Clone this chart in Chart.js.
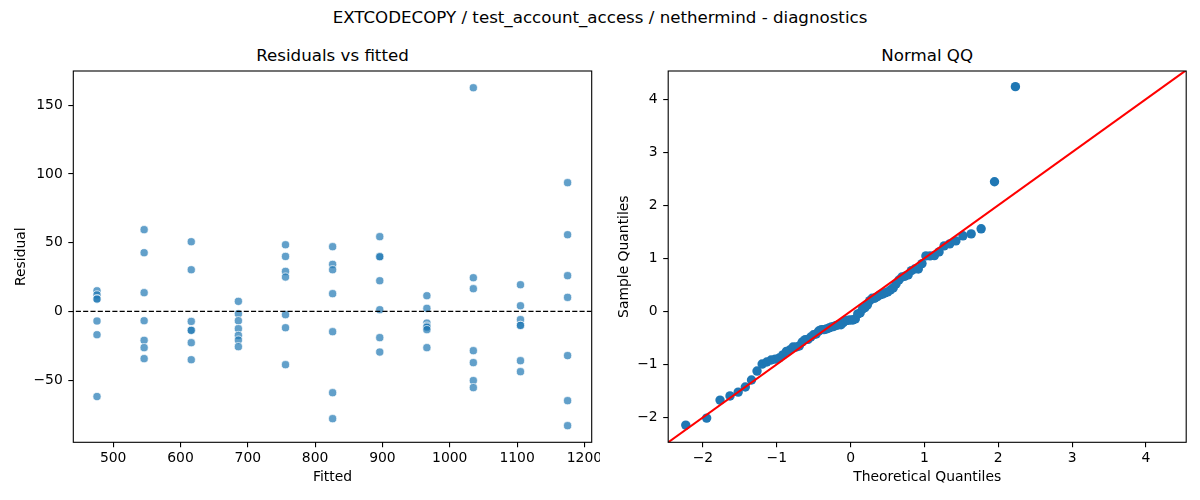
<!DOCTYPE html>
<html>
<head>
<meta charset="utf-8">
<script src="https://cdn.jsdelivr.net/npm/chart.js@4.4.1/dist/chart.umd.min.js"></script>
<style>
  html, body { margin: 0; padding: 0; background: #fff; }
  #wrap { position: relative; width: 1200px; height: 500px; overflow: hidden; font-family: 'DejaVu Sans', sans-serif; color: #000; }
  .ttl { position: absolute; font-size: 16.67px; line-height: 20px; white-space: nowrap; transform: translateX(-50%); }
  canvas { position: absolute; top: 0; }
</style>
</head>
<body>
<div id="wrap">
  <div class="ttl" style="left:600px; top:8px;">EXTCODECOPY / test_account_access / nethermind - diagnostics</div>
  <div class="ttl" style="left:332.5px; top:46px;">Residuals vs fitted</div>
  <div class="ttl" style="left:927.2px; top:46px;">Normal QQ</div>
  <div style="position:absolute; left:0; top:0; width:600px; height:500px;"><canvas id="left" width="600" height="500"></canvas></div>
  <div style="position:absolute; left:600px; top:0; width:600px; height:500px;"><canvas id="right" width="600" height="500"></canvas></div>
</div>
<script>
// ---- data ----
const fittedLevels = [476, 546, 616, 686, 756, 826, 896, 966, 1035, 1105, 1175];
const residualsAtLevel = [
  [15, 12, 9, 9, -7, -17, -62],
  [59.5, 42.7, 13.6, -6.8, -21.1, -26.4, -34.4],
  [50.7, 30.3, -7.3, -13.8, -13.8, -22.8, -35.2],
  [7.3, -1.7, -6.8, -12.6, -17.5, -20.9, -25.7],
  [48.5, 40.0, 29.1, 25.0, -2.4, -11.9, -38.8],
  [47.1, 34.2, 30.3, 12.9, -14.8, -59.2, -78.1],
  [54.4, 39.8, 39.8, 22.3, 1.2, -19.1, -29.6],
  [11.4, 2.2, -8.5, -10.7, -11.5, -13.3, -26.4],
  [162.8, 24.5, 16.5, -28.6, -37.3, -50.4, -55.5],
  [19.4, 4.1, -6.0, -10.2, -10.2, -35.9, -43.9],
  [93.7, 55.8, 26.0, 10.2, -32.2, -65.0, -83.2]
];
const qqTheoretical = [
  -2.232, -1.949, -1.768, -1.633, -1.522, -1.426, -1.342, -1.267, -1.198, -1.135,
  -1.076, -1.020, -0.967, -0.917, -0.869, -0.823, -0.779, -0.736, -0.695, -0.655,
  -0.615, -0.577, -0.539, -0.502, -0.466, -0.431, -0.396, -0.361, -0.327, -0.293,
  -0.260, -0.227, -0.194, -0.161, -0.129, -0.097, -0.064, -0.032, 0.000, 0.032,
  0.064, 0.097, 0.129, 0.161, 0.194, 0.227, 0.260, 0.293, 0.327, 0.361,
  0.396, 0.431, 0.466, 0.502, 0.539, 0.577, 0.615, 0.655, 0.695, 0.736,
  0.779, 0.823, 0.869, 0.917, 0.967, 1.020, 1.076, 1.135, 1.198, 1.267,
  1.342, 1.426, 1.522, 1.633, 1.768, 1.949, 2.232
];
const qqSample = [
  -2.146, -2.014, -1.674, -1.596, -1.524, -1.428, -1.295, -1.127, -0.995, -0.956,
  -0.919, -0.901, -0.880, -0.823, -0.756, -0.730, -0.673, -0.673, -0.655, -0.580,
  -0.535, -0.530, -0.484, -0.442, -0.429, -0.372, -0.346, -0.346, -0.333, -0.315,
  -0.297, -0.286, -0.266, -0.253, -0.253, -0.209, -0.177, -0.170, -0.164, -0.164,
  -0.144, -0.050, -0.032, 0.043, 0.069, 0.118, 0.201, 0.245, 0.245, 0.277,
  0.308, 0.323, 0.347, 0.365, 0.401, 0.440, 0.515, 0.590, 0.647, 0.660,
  0.686, 0.767, 0.798, 0.798, 0.899, 1.044, 1.044, 1.050, 1.120, 1.234,
  1.270, 1.327, 1.423, 1.459, 1.555, 2.443, 4.235
];
const qqLineEnds = [-5, 6];          // 45-degree reference line y = x
const zeroLineEnds = [0, 2000];      // horizontal reference at residual 0
const fittedTicks = [500, 600, 700, 800, 900, 1000, 1100, 1200];
const residualTicks = [-50, 0, 50, 100, 150];
const qqTicks = [-2, -1, 0, 1, 2, 3, 4];

// ---- styling helpers ----
const FONT = { family: 'DejaVu Sans', size: 13.9 };
const fmt = v => String(v).replace('-', '\u2212');

const frame = {
  id: 'frame',
  afterDraw(chart) {
    const a = chart.chartArea, ctx = chart.ctx;
    ctx.save();
    ctx.strokeStyle = '#000';
    ctx.lineWidth = 1.1;
    ctx.strokeRect(a.left, a.top, a.right - a.left, a.bottom - a.top);
    ctx.restore();
  }
};

function axis(min, max, ticks, title, isX, size, titlePad) {
  return {
    type: 'linear',
    min, max,
    afterBuildTicks: s => { s.ticks = ticks.map(v => ({ value: v })); },
    afterFit: s => {
      if (isX) s.height = size; else s.width = size;
      s.paddingLeft = 0; s.paddingRight = 0; s.paddingTop = 0; s.paddingBottom = 0;
    },
    ticks: { font: FONT, color: '#000', padding: isX ? 3 : 5.5, maxRotation: 0, autoSkip: false, callback: fmt },
    grid: { display: true, drawOnChartArea: false, drawTicks: true, tickLength: 5, color: '#000', lineWidth: 1.1 },
    border: { display: false },
    title: { display: true, text: title, font: FONT, color: '#000',
             padding: isX ? { top: 0, bottom: titlePad } : { top: titlePad, bottom: 0 } }
  };
}

const common = {
  responsive: false,
  animation: false,
  events: [],
  plugins: { legend: { display: false }, tooltip: { enabled: false } }
};

// ---- left: residuals vs fitted ----
const residualPoints = [];
fittedLevels.forEach((f, i) => residualsAtLevel[i].forEach(r => residualPoints.push({ x: f, y: r })));

new Chart(document.getElementById('left'), {
  type: 'scatter',
  data: {
    datasets: [
      {
        data: zeroLineEnds.map(x => ({ x, y: 0 })),
        showLine: true, pointRadius: 0, borderColor: '#000', borderWidth: 1.39,
        borderDash: [5.1, 2.2], clip: 0
      },
      {
        data: residualPoints,
        pointRadius: 4.1, borderWidth: 1,
        backgroundColor: 'rgba(31,119,180,0.7)', borderColor: 'rgba(255,255,255,0.7)'
      }
    ]
  },
  options: Object.assign({}, common, {
    layout: { padding: { top: 71, right: 8.3, left: 0, bottom: 0 } },
    scales: {
      x: axis(440.8, 1210.8, fittedTicks, 'Fitted', true, 57.7, 14.4),
      y: axis(-95.3, 175.0, residualTicks, 'Residual', false, 73.3, 12.7)
    }
  }),
  plugins: [frame]
});

// ---- right: normal QQ ----
new Chart(document.getElementById('right'), {
  type: 'scatter',
  data: {
    datasets: [
      {
        data: qqLineEnds.map(v => ({ x: v, y: v })),
        showLine: true, pointRadius: 0, borderColor: '#ff0000', borderWidth: 2.08, clip: 0
      },
      {
        data: qqTheoretical.map((x, i) => ({ x, y: qqSample[i] })),
        pointRadius: 4.7, borderWidth: 0,
        backgroundColor: '#1f77b4', borderColor: '#1f77b4'
      }
    ]
  },
  options: Object.assign({}, common, {
    layout: { padding: { top: 71, right: 13.8, left: 0, bottom: 0 } },
    scales: {
      x: axis(-2.47, 4.545, qqTicks, 'Theoretical Quantiles', true, 57.7, 14.4),
      y: axis(-2.47, 4.53, qqTicks, 'Sample Quantiles', false, 68.2, 15.7)
    }
  }),
  plugins: [frame]
});
</script>
</body>
</html>
